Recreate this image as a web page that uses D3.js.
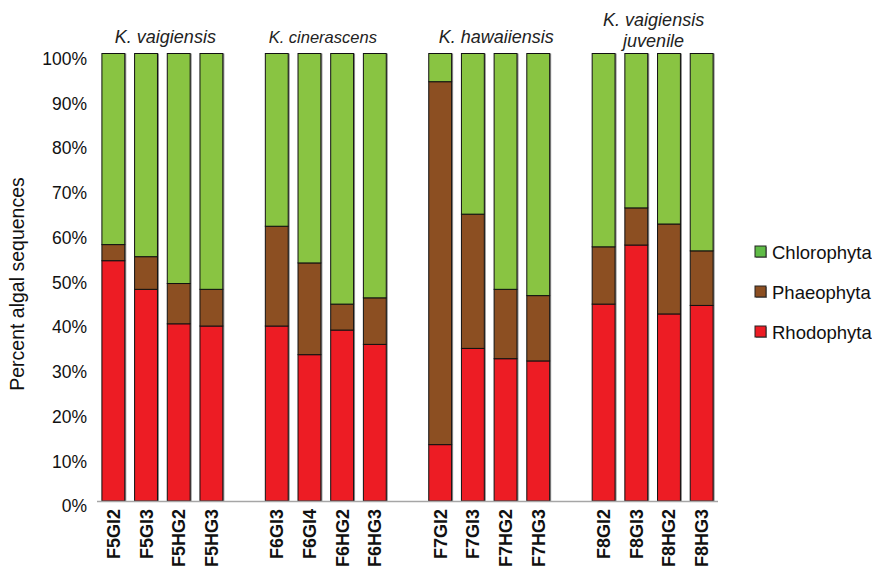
<!DOCTYPE html>
<html>
<head>
<meta charset="utf-8">
<script src="https://cdn.jsdelivr.net/npm/d3@7"></script>
<style>
  html, body { margin: 0; padding: 0; background: #fff; }
  svg { display: block; font-family: "Liberation Sans", Arial, sans-serif; }
</style>
</head>
<body>
<svg id="chart" width="872" height="570"></svg>
<script>
// ---- data ----
const categories = ["F5GI2","F5GI3","F5HG2","F5HG3",
                    "F6GI3","F6GI4","F6HG2","F6HG3",
                    "F7GI2","F7GI3","F7HG2","F7HG3",
                    "F8GI2","F8GI3","F8HG2","F8HG3"];
const groupNames = [["K. vaigiensis"], ["K. cinerascens"], ["K. hawaiiensis"], ["K. vaigiensis", "juvenile"]];
const groupSizes = [4, 4, 4, 4];
const seriesNames = ["Rhodophyta", "Phaeophyta", "Chlorophyta"];
const rhodophyta  = [53.7, 47.3, 39.6, 39.1, 39.1, 32.7, 38.2, 35.0, 12.6, 34.1, 31.8, 31.3, 44.0, 57.2, 41.8, 43.7];
const phaeophyta  = [ 3.6,  7.3,  9.0,  8.2, 22.3, 20.5,  5.8, 10.4, 81.1, 30.0, 15.5, 14.6, 12.8,  8.3, 20.1, 12.2];
const chlorophyta = [42.7, 45.4, 51.4, 52.7, 38.6, 46.8, 56.0, 54.6,  6.3, 35.9, 52.7, 54.1, 43.2, 34.5, 38.1, 44.1];
const yTicks = [0, 10, 20, 30, 40, 50, 60, 70, 80, 90, 100];

// ---- styles ----
const barColors = {Rhodophyta: "#ed1c24", Phaeophyta: "#8c4f22", Chlorophyta: "#89c442"};
const legendColors = {Rhodophyta: "#ed1c24", Phaeophyta: "#8c4f22", Chlorophyta: "#5fbb46"};

const svg = d3.select("#chart");

// band domain with empty slots between groups
const slots = [];
let ci = 0;
groupSizes.forEach((n, gi) => {
  if (gi > 0) slots.push("gap" + gi);
  for (let k = 0; k < n; k++) slots.push(categories[ci++]);
});

const x = d3.scaleBand().domain(slots).range([97, 718]).paddingInner(0.3).paddingOuter(0.15);
const y = d3.scaleLinear().domain([0, 100]).range([501, 53.5]);

// stacked data
const rows = categories.map((c, i) => ({cat: c, Rhodophyta: rhodophyta[i], Phaeophyta: phaeophyta[i], Chlorophyta: chlorophyta[i]}));
const stack = d3.stack().keys(seriesNames)(rows);

// bar shadows (right edge)
svg.append("g").selectAll("rect").data(rows).join("rect")
  .attr("x", d => x(d.cat) + 1.5)
  .attr("y", y(100))
  .attr("width", x.bandwidth())
  .attr("height", y(0) - y(100))
  .attr("fill", "#8a8a8a");

// bars
const layers = svg.append("g").selectAll("g").data(stack).join("g")
  .attr("fill", d => barColors[d.key]);
layers.selectAll("rect").data(d => d).join("rect")
  .attr("x", d => x(d.data.cat))
  .attr("y", d => y(d[1]))
  .attr("width", x.bandwidth())
  .attr("height", d => y(d[0]) - y(d[1]))
  .attr("stroke", "#111")
  .attr("stroke-width", 1);

// x axis line
svg.append("line")
  .attr("x1", x.range()[0]).attr("x2", x.range()[1])
  .attr("y1", y(0) + 0.5).attr("y2", y(0) + 0.5)
  .attr("stroke", "#a6a6a6").attr("stroke-width", 1.5);

// y axis labels (no line)
const yAxis = d3.axisLeft(y).tickValues(yTicks).tickFormat(d => d + "%").tickSize(0).tickPadding(0);
const yg = svg.append("g").attr("transform", "translate(87,0)").call(yAxis);
yg.select(".domain").remove();
yg.selectAll("text")
  .attr("font-family", "Liberation Sans, Arial, sans-serif")
  .attr("font-size", 17.5)
  .attr("fill", "#111")
  .attr("dy", "0.62em")
  .attr("x", 0);

// x axis category labels
const xAxis = d3.axisBottom(x).tickValues(categories).tickSize(0).tickPadding(0);
const xg = svg.append("g").attr("transform", `translate(0,${y(0)})`).call(xAxis);
xg.select(".domain").remove();
xg.selectAll("text")
  .attr("font-family", "Liberation Sans, Arial, sans-serif")
  .attr("font-size", 18)
  .attr("font-weight", "bold")
  .attr("fill", "#111")
  .attr("text-anchor", "end")
  .attr("dy", null)
  .attr("y", 0)
  .attr("transform", "translate(6.5,8) rotate(-90)");

// y axis title
svg.append("text")
  .attr("transform", "translate(24,284) rotate(-90)")
  .attr("text-anchor", "middle")
  .attr("font-size", 19.5)
  .attr("fill", "#111")
  .text("Percent algal sequences");

// group titles
let start = 0;
const titleDx = [3, -3, 7, 1];
const titleSize = [18, 16.5, 18, 18];
groupNames.forEach((lines, gi) => {
  const cats = categories.slice(start, start + groupSizes[gi]);
  start += groupSizes[gi];
  const cx = (x(cats[0]) + x(cats[cats.length - 1]) + x.bandwidth()) / 2 + titleDx[gi];
  const t = svg.append("text")
    .attr("text-anchor", "middle")
    .attr("font-size", titleSize[gi])
    .attr("font-style", "italic")
    .attr("fill", "#222");
  const baseY = lines.length > 1 ? 26 : 42.5;
  lines.forEach((ln, li) => {
    t.append("tspan").attr("x", cx).attr("y", baseY + li * 20.5).text(ln);
  });
});

// legend
const legendOrder = ["Chlorophyta", "Phaeophyta", "Rhodophyta"];
const lg = svg.append("g").selectAll("g").data(legendOrder).join("g")
  .attr("transform", (d, i) => `translate(755,${252 + i * 40})`);
lg.append("rect").attr("x", 1).attr("y", -5).attr("width", 11).attr("height", 11).attr("fill", "#999");
lg.append("rect").attr("x", 0).attr("y", -6).attr("width", 11).attr("height", 11)
  .attr("fill", d => legendColors[d]).attr("stroke", "#222").attr("stroke-width", 1);
lg.append("text").attr("x", 17).attr("y", 0).attr("dy", "0.36em")
  .attr("font-size", 18.5).attr("fill", "#111").text(d => d);
</script>
</body>
</html>
